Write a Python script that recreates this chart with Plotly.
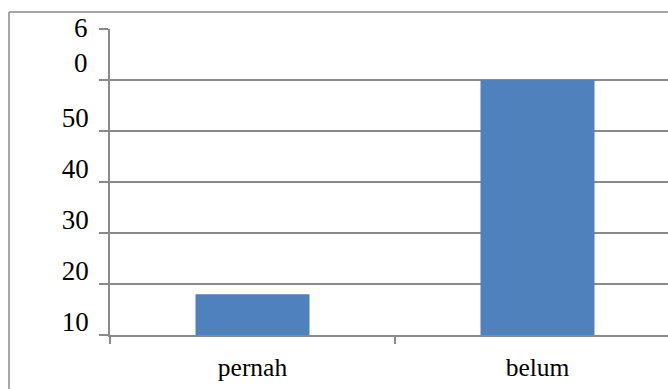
import plotly.graph_objects as go

categories = ["pernah", "belum"]
values = [18, 60]
y_tickvals = [10, 20, 30, 40, 50, 60, 70]
y_ticktext = ["10", "20", "30", "40", "50", "", ""]
top_label = "6<br>0"

W, H = 668, 389
ml, mr, mt, mb = 110, 0, 29, 54
pw = W - ml - mr
ph = H - mt - mb
cat_px = 285.0
FSX = 25.5
FSY = 27

fig = go.Figure(go.Bar(
    x=categories, y=[v - 10 for v in values], base=10,
    marker=dict(color="#4F81BD", line=dict(width=0)),
    width=0.4,
))

grid = "#8a8a8a"
top_y = (ph + mt - 12) / ph
left_x = (9 - ml) / pw
fig.update_layout(
    width=W, height=H, autosize=False,
    margin=dict(l=ml, r=mr, t=mt, b=mb, pad=0),
    paper_bgcolor="white", plot_bgcolor="white",
    font=dict(family="Liberation Serif", size=FSX, color="black"),
    showlegend=False,
    xaxis=dict(
        range=[-0.5, -0.5 + pw / cat_px],
        showline=True, linecolor=grid, linewidth=1.5,
        ticks="outside", ticklen=7, tickcolor=grid, tickwidth=1.5,
        tickson="boundaries", showgrid=False, zeroline=False,
        ticklabelstandoff=9, tickfont=dict(size=FSX),
    ),
    yaxis=dict(
        range=[10, 70],
        tickvals=y_tickvals, ticktext=y_ticktext,
        showline=True, linecolor=grid, linewidth=1.5,
        ticks="outside", ticklen=9, tickcolor=grid, tickwidth=1.5,
        showgrid=True, gridcolor=grid, gridwidth=1.5,
        zeroline=False, ticklabelshift=-13, ticklabelstandoff=5,
        tickfont=dict(size=FSY),
    ),
    shapes=[
        dict(type="line", xref="paper", yref="paper",
             x0=left_x, x1=left_x, y0=-0.5, y1=top_y,
             line=dict(color=grid, width=1.5), layer="above"),
        dict(type="line", xref="paper", yref="paper",
             x0=left_x, x1=1.0, y0=top_y, y1=top_y,
             line=dict(color=grid, width=1.5), layer="above"),
    ],
    annotations=[dict(
        x=0, xref="paper", y=60, yref="y", text=top_label,
        showarrow=False, xanchor="right", yanchor="middle",
        xshift=-20, yshift=35, align="center",
        font=dict(family="Liberation Serif", size=FSY, color="black"),
    )],
)

fig.write_html("out.html")
